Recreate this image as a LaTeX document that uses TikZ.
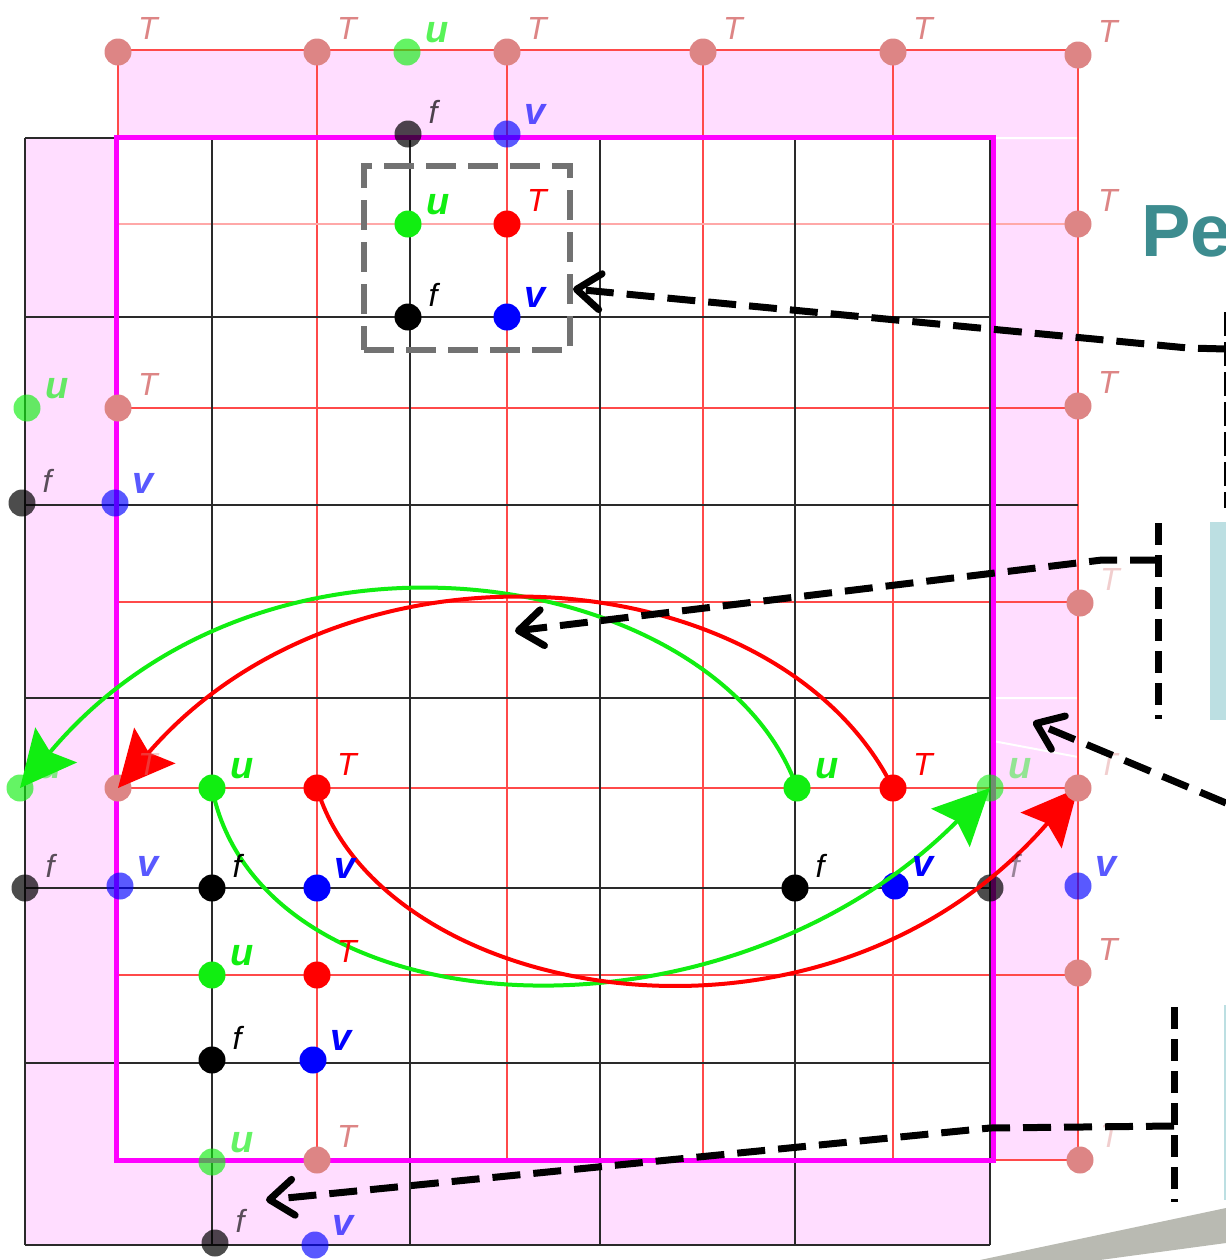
\documentclass[tikz,border=0pt]{standalone}
\usepackage{fontspec}
\setmainfont{Liberation Sans}
\usetikzlibrary{arrows.meta,calc}
\pgfdeclarelayer{bg}
\pgfdeclarelayer{dots}
\pgfdeclarelayer{fg}
\pgfdeclarelayer{top}
\pgfsetlayers{bg,dots,main,fg,top}
\definecolor{pinkband}{HTML}{FFDDFF}
\definecolor{gridred}{HTML}{FF4A4A}
\definecolor{gridredlt}{HTML}{FFA8A8}
\definecolor{gridblk}{HTML}{2A2A2A}
\definecolor{salmon}{HTML}{DD8585}
\definecolor{cgreen}{HTML}{11EE11}
\definecolor{vblue}{HTML}{0000FF}
\definecolor{tealtext}{HTML}{3D8C8F}
\definecolor{tealbox}{HTML}{BCDFE2}
\definecolor{boxgray}{HTML}{727272}
\definecolor{bandgray}{HTML}{B9BAB2}
\definecolor{magline}{HTML}{FF00FF}
\tikzset{
  dot/.style={circle,inner sep=0pt,minimum size=13.5pt},
  labT/.style={inner sep=0pt,font=\fontsize{16}{16}\selectfont\itshape},
  labUV/.style={inner sep=0pt,font=\fontsize{19}{19}\selectfont\bfseries\itshape},
  redgrid/.style={draw=gridred,line width=0.75pt},
  blkgrid/.style={draw=gridblk,line width=1pt},
  bigtip/.style={-{Stealth[length=28pt,width=27pt,inset=4.5pt]}},
  gcurve/.style={draw=cgreen,line width=2pt,bigtip},
  rcurve/.style={draw=red,line width=2pt,bigtip},
  bkdash/.style={draw=black,line width=3.5pt,dash pattern=on 14pt off 6.5pt},
  bkarrow/.style={bkdash,-{Straight Barb[length=12pt,width=18pt,round]}},
}
\newcommand\mkpt[9]{%
  \begin{pgfonlayer}{#4}\node[dot,fill=#3,opacity=#5] (#1) at (#2) {};\end{pgfonlayer}%
  \begin{pgfonlayer}{fg}\node[#6,text=#3,opacity=#7] (#1l) at ($(#1)+(#8)$) {#9};\end{pgfonlayer}}
\newcommand\Tpt[6]{\mkpt{#1}{#2}{#3}{#4}{#5}{labT}{#6}{30,-24}{T}}
\newcommand\upt[6]{\mkpt{#1}{#2}{#3}{#4}{#5}{labUV}{#6}{30,-19}{u}}
\newcommand\fpt[6]{\mkpt{#1}{#2}{#3}{#4}{#5}{labT}{#6}{25,-22}{f}}
\newcommand\vpt[6]{\mkpt{#1}{#2}{#3}{#4}{#5}{labUV}{#6}{28,-20}{v}}
\begin{document}
\begin{tikzpicture}[x=0.5pt,y=-0.5pt]
\useasboundingbox (0,0) rectangle (1226,1260);
\begin{pgfonlayer}{bg}
  \fill[pinkband] (118,50) -- (1078,50) -- (1078,1160) -- (990,1160) -- (990,1245)
    -- (25,1245) -- (25,138) -- (118,138) -- cycle;
  \fill[white] (118,138) rectangle (990,1160);
  \draw[white,line width=1pt] (993,138) -- (1078,138) (993,698) -- (1078,698) (993,741) -- (1078,757);
  % red grid
  \foreach \x in {118,317,507,703,893,1078} \draw[redgrid] (\x,50) -- (\x,1160);
  \foreach \y in {50,408,602,788,975,1160} \draw[redgrid] (118,\y) -- (1078,\y);
  \draw[redgrid,draw=gridredlt] (118,224) -- (1078,224);
  % black grid
  \foreach \x in {25,212,410,600,795,990} \draw[blkgrid] (\x,138) -- (\x,1245);
  \foreach \y in {317,698,888,1063,1245} \draw[blkgrid] (25,\y) -- (990,\y);
  \draw[blkgrid] (25,505) -- (1078,505);
  \draw[blkgrid] (25,138) -- (118,138);
  % magenta boundary
  \draw[magline,line width=2.5pt] (116,137) rectangle (993,1160);
  % dashed gray box
  \node[draw=boxgray,line width=3pt,dash pattern=on 15pt off 6pt,minimum width=103pt,
        minimum height=92pt,inner sep=0pt] (box) at (467,258) {};
  % right side decorations
  \fill[tealbox] (1210,522) rectangle (1226,720);
  \draw[tealbox,line width=1pt] (1225,1005) -- (1225,1200);
  \fill[bandgray] (980,1260) -- (1226,1208) -- (1226,1243) -- (1100,1260) -- cycle;
\end{pgfonlayer}
\node[anchor=base west,inner sep=0pt,text=tealtext,font=\fontsize{37}{37}\selectfont\bfseries] (title) at (1141,256) {Pe};
% interior points
\upt{u1}{408,224}{cgreen}{dots}{1}{1}
\Tpt{T1}{507,224}{red}{dots}{1}{1}
\fpt{f1}{408,317}{black}{dots}{1}{1}
\vpt{v1}{507,317}{vblue}{dots}{1}{1}
\upt{u2}{212,788}{cgreen}{dots}{1}{1}
\Tpt{T2}{317,788}{red}{dots}{1}{1}
\upt{u3}{797,788}{cgreen}{dots}{1}{1}
\Tpt{T3}{893,788}{red}{dots}{1}{1}
\fpt{f2}{212,888}{black}{dots}{1}{1}
\vpt{v2}{317,888}{vblue}{dots}{1}{1}
\fpt{f3}{795,888}{black}{dots}{1}{1}
\vpt{v3}{895,886}{vblue}{dots}{1}{1}
\upt{u4}{212,975}{cgreen}{dots}{1}{1}
\Tpt{T4}{317,975}{red}{dots}{1}{1}
\fpt{f4}{212,1060}{black}{dots}{1}{1}
\vpt{v4}{313,1060}{vblue}{dots}{1}{1}
% boundary T points
\Tpt{b1}{118,52}{salmon}{dots}{1}{1}
\Tpt{b2}{317,52}{salmon}{dots}{1}{1}
\Tpt{b3}{507,52}{salmon}{dots}{1}{1}
\Tpt{b4}{703,52}{salmon}{dots}{1}{1}
\Tpt{b5}{893,52}{salmon}{dots}{1}{1}
\Tpt{b6}{1078,55}{salmon}{dots}{1}{1}
\Tpt{b7}{1078,224}{salmon}{dots}{1}{1}
\Tpt{b8}{118,408}{salmon}{dots}{1}{1}
\Tpt{b9}{1078,406}{salmon}{dots}{1}{1}
\Tpt{b10}{1080,603}{salmon}{dots}{1}{.4}
\Tpt{TL}{118,788}{salmon}{dots}{1}{.4}
\Tpt{TR}{1078,788}{salmon}{fg}{1}{.4}
\Tpt{b13}{1078,973}{salmon}{dots}{1}{1}
\Tpt{b14}{317,1160}{salmon}{dots}{1}{1}
\Tpt{b15}{1080,1160}{salmon}{dots}{1}{.4}
% ghost points
\upt{g1}{407,52}{cgreen}{dots}{.65}{.7}
\upt{g2}{27,408}{cgreen}{dots}{.65}{.65}
\upt{gL}{20,788}{cgreen}{dots}{.65}{.5}
\upt{gR}{990,788}{cgreen}{fg}{.6}{.45}
\upt{g5}{212,1162}{cgreen}{dots}{.65}{.65}
\fpt{h1}{408,134}{black}{dots}{.7}{.7}
\fpt{h2}{22,503}{black}{dots}{.7}{.65}
\fpt{h3}{25,888}{black}{dots}{.7}{.65}
\fpt{h4}{990,888}{black}{dots}{.7}{.4}
\fpt{h5}{215,1243}{black}{dots}{.7}{.65}
\vpt{w1}{507,134}{vblue}{dots}{.65}{.65}
\vpt{w2}{115,503}{vblue}{dots}{.65}{.65}
\vpt{w3}{120,886}{vblue}{dots}{.65}{.65}
\vpt{w4}{1078,886}{vblue}{dots}{.65}{.65}
\vpt{w5}{315,1245}{vblue}{dots}{.65}{.65}
% curved arrows
\draw[gcurve] (u3.center) .. controls (720,570) and (270,490) .. (gL.center);
\draw[rcurve] (T3.center) .. controls (780,560) and (350,520) .. (TL.center);
\draw[gcurve] (u2.center) .. controls (260,1030) and (720,1060) .. (gR.center);
\draw[rcurve] (T2.center) .. controls (380,1000) and (820,1085) .. (TR.center);
% dashed callouts
\begin{pgfonlayer}{top}
  \coordinate (k1t) at (1225,312); \coordinate (k1b) at (1225,508);
  \coordinate (k1m) at (1226,349); \coordinate (k1c) at (1188,348);
  \coordinate (a1) at (573,289);
  \draw[bkdash,line width=1.5pt,dash pattern=on 12pt off 3pt] (k1t) -- (k1b);
  \draw[bkarrow] (k1m) -- (k1c) -- (a1);
  \coordinate (k2t) at (1158,523); \coordinate (k2b) at (1158,719);
  \coordinate (k2m) at (1158,560); \coordinate (k2c) at (1102,560);
  \coordinate (a2) at (515,631);
  \draw[bkdash,dash pattern=on 11pt off 5pt] (k2t) -- (k2b);
  \draw[bkarrow] (k2m) -- (k2c) -- (a2);
  \coordinate (k3s) at (1226,803); \coordinate (a3) at (1033,722);
  \draw[bkarrow] (k3s) -- (a3);
  \coordinate (k4t) at (1174,1007); \coordinate (k4b) at (1174,1202);
  \coordinate (k4m) at (1174,1126); \coordinate (k4c) at (990,1128);
  \coordinate (a4) at (266,1200);
  \draw[bkdash,dash pattern=on 11pt off 5pt] (k4t) -- (k4b);
  \draw[bkarrow] (k4m) -- (k4c) -- (a4);
\end{pgfonlayer}
\end{tikzpicture}
\end{document}
